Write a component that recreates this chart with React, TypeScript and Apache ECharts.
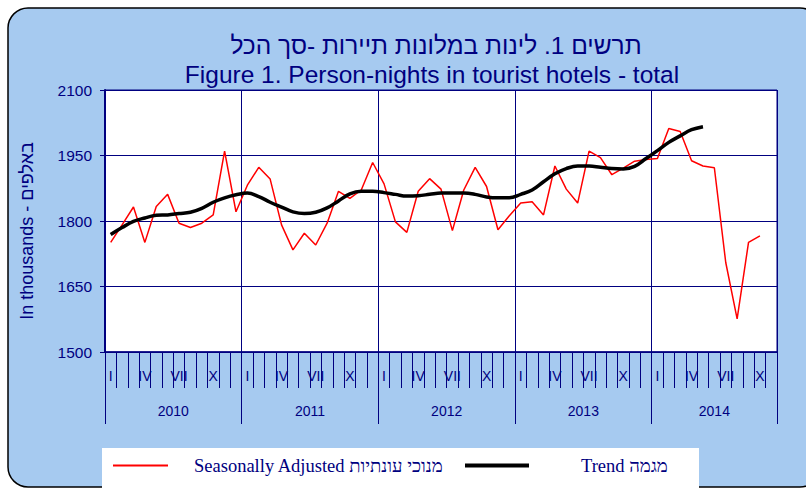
import React, { useEffect, useRef } from 'react';
import * as echarts from 'echarts';

// ---------- data ----------
const monthNumerals = ['I', 'II', 'III', 'IV', 'V', 'VI', 'VII', 'VIII', 'IX', 'X', 'XI', 'XII'];
const years = ['2010', '2011', '2012', '2013', '2014'];
const monthsOnAxis = 59; // Jan 2010 – Nov 2014
const yTickMin = 1500;
const yTickMax = 2100;
const yTickStep = 150;

// Seasonally adjusted person-nights (thousands), Jan 2010 – Oct 2014
const saValues = [
  1751, 1791, 1832, 1751, 1833, 1861, 1795, 1785, 1795, 1814, 1960, 1821,
  1882, 1923, 1896, 1791, 1734, 1772, 1745, 1795, 1868, 1852, 1871, 1934,
  1885, 1798, 1774, 1868, 1897, 1873, 1778, 1871, 1923, 1879, 1780, 1812,
  1841, 1844, 1814, 1926, 1873, 1841, 1960, 1945, 1906, 1921, 1937, 1941,
  1943, 2012, 2005, 1938, 1926, 1922, 1705, 1576, 1751, 1766,
];

// Trend (thousands), Jan 2010 – May 2014
const trendValues = [
  1769, 1785, 1799, 1807, 1813, 1814, 1817, 1820, 1829, 1843, 1853, 1860,
  1864, 1856, 1843, 1832, 1821, 1817, 1820, 1830, 1846, 1862, 1868, 1868,
  1865, 1861, 1857, 1858, 1861, 1864, 1864, 1864, 1861, 1855, 1853, 1853,
  1861, 1871, 1890, 1908, 1920, 1926, 1926, 1923, 1920, 1919, 1925, 1943,
  1961, 1980, 1995, 2009, 2016,
];

const titleHe = 'תרשים 1. לינות במלונות תיירות -סך הכל';
const titleEn = 'Figure 1. Person-nights in tourist hotels - total';
const yName = 'In thousands - באלפים';
const saName = 'Seasonally Adjusted מנוכי עונתיות';
const trendName = 'Trend מגמה';

// ---------- derived axis helpers ----------
const categories = Array.from({ length: monthsOnAxis }, (_, i) => monthNumerals[i % 12]);
const yearStarts = years.map((_, i) => i * 12);
const yearBoundaries = [...yearStarts, monthsOnAxis];
const yearCenters = years.map((_, i) => (yearStarts[i] + Math.min(yearStarts[i] + 12, monthsOnAxis)) / 2);

const NAVY = '#000080';
const SANS = "'Liberation Sans', Arial, Helvetica, sans-serif";
const SERIF = "'Liberation Serif', 'Times New Roman', serif";

export default function App() {
  const ref = useRef<HTMLDivElement>(null);

  useEffect(() => {
    if (!ref.current) return;
    const chart = echarts.init(ref.current, null, { renderer: 'svg' });
    const titleText = { fontFamily: SANS, fontSize: 24.5, fontWeight: 'normal', color: NAVY };
    const legendText = { fontFamily: SERIF, fontSize: 18.5, color: NAVY };
    const option: any = {
      animation: false,
      backgroundColor: '#ffffff',
      graphic: [
        {
          type: 'rect',
          z: -10,
          silent: true,
          shape: { x: 8, y: 8, width: 812, height: 479, r: 20 },
          style: { fill: '#A6CAF0', stroke: '#000000', lineWidth: 1.5 },
        },
        {
          type: 'rect',
          z: -9,
          silent: true,
          shape: { x: 102, y: 448, width: 597, height: 46 },
          style: { fill: '#ffffff' },
        },
      ],
      title: [
        {
          text: titleHe,
          left: 431,
          top: 28,
          padding: 5,
          textAlign: 'center',
          textVerticalAlign: 'top',
          textStyle: titleText,
        },
        {
          text: titleEn,
          left: 427,
          top: 57,
          padding: 5,
          textAlign: 'center',
          textVerticalAlign: 'top',
          textStyle: titleText,
        },
      ],
      legend: [
        {
          data: [{ name: saName, icon: 'rect' }],
          left: 113,
          top: 456,
          padding: 0,
          itemWidth: 55,
          itemHeight: 2,
          selectedMode: false,
          textStyle: { ...legendText, padding: [0, 0, 0, 21] },
        },
        {
          data: [{ name: trendName, icon: 'rect' }],
          left: 465,
          top: 456,
          padding: 0,
          itemWidth: 64,
          itemHeight: 4,
          selectedMode: false,
          textStyle: { ...legendText, padding: [0, 0, 0, 47] },
        },
      ],
      grid: {
        left: 105,
        right: 29,
        top: 90,
        bottom: 138,
        show: true,
        backgroundColor: '#ffffff',
        borderColor: NAVY,
        borderWidth: 1,
        outerBoundsMode: 'none',
      },
      xAxis: [
        {
          type: 'category',
          data: categories,
          boundaryGap: true,
          position: 'bottom',
          axisLine: { show: true, lineStyle: { color: NAVY, width: 1.5 } },
          axisTick: { show: true, interval: 0, length: 36, lineStyle: { color: NAVY, width: 1 } },
          axisLabel: {
            interval: (i: number) => i % 3 === 0,
            margin: 17,
            fontSize: 14,
            fontFamily: SANS,
            color: NAVY,
          },
          splitLine: { show: true, interval: (i: number) => i % 12 === 0, lineStyle: { color: NAVY, width: 1 } },
        },
        {
          type: 'value',
          min: 0,
          max: monthsOnAxis,
          position: 'bottom',
          axisLine: { show: false },
          splitLine: { show: false },
          axisTick: { show: true, customValues: yearBoundaries, length: 72, lineStyle: { color: NAVY, width: 1 } },
          axisLabel: {
            customValues: yearCenters,
            formatter: (v: number) => {
              const idx = yearCenters.indexOf(v);
              return idx >= 0 ? years[idx] : '';
            },
            margin: 52,
            fontSize: 14,
            fontFamily: SANS,
            color: NAVY,
          },
        },
      ],
      yAxis: {
        type: 'value',
        min: yTickMin,
        max: yTickMax,
        interval: yTickStep,
        name: yName,
        nameLocation: 'middle',
        nameGap: 69,
        nameTextStyle: { fontFamily: SANS, fontSize: 18, color: NAVY, padding: [0, 20, 0, 0] },
        axisLine: { show: true, lineStyle: { color: NAVY, width: 2 } },
        axisTick: { show: true, length: 5, lineStyle: { color: NAVY } },
        axisLabel: { margin: 13, fontSize: 15.5, fontFamily: SANS, color: NAVY, formatter: (v: number) => String(v) },
        splitLine: { show: true, lineStyle: { color: NAVY, width: 1 } },
      },
      series: [
        {
          name: saName,
          type: 'line',
          data: saValues,
          symbol: 'none',
          lineStyle: { color: '#ff0000', width: 1.5 },
          itemStyle: { color: '#ff0000' },
          z: 2,
        },
        {
          name: trendName,
          type: 'line',
          data: trendValues,
          symbol: 'none',
          smooth: 0.4,
          lineStyle: { color: '#000000', width: 3.5 },
          itemStyle: { color: '#000000' },
          z: 3,
        },
      ],
    };
    chart.setOption(option);
    return () => chart.dispose();
  }, []);

  return <div ref={ref} style={{ position: 'absolute', left: 0, top: 0, width: 806, height: 490 }} />;
}
